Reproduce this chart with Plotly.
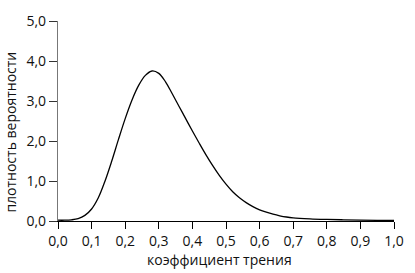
import plotly.graph_objects as go

x_vals = [0.00, 0.02, 0.04, 0.06, 0.08, 0.10, 0.12, 0.14, 0.16, 0.18, 0.20,
          0.22, 0.24, 0.26, 0.28, 0.30, 0.32, 0.34, 0.36, 0.38, 0.40,
          0.42, 0.44, 0.46, 0.48, 0.50, 0.52, 0.54, 0.56, 0.58, 0.60,
          0.62, 0.64, 0.66, 0.68, 0.70, 0.75, 0.80, 0.85, 0.90, 0.95, 1.00]
density = [0.02, 0.02, 0.03, 0.06, 0.14, 0.30, 0.58, 1.00, 1.50, 2.04, 2.56,
           3.02, 3.39, 3.64, 3.75, 3.69, 3.48, 3.18, 2.87, 2.56, 2.25,
           1.95, 1.66, 1.39, 1.14, 0.92, 0.73, 0.58, 0.46, 0.36, 0.28,
           0.22, 0.17, 0.13, 0.10, 0.08, 0.055, 0.04, 0.03, 0.022, 0.016, 0.012]

x_ticks = [0.0, 0.1, 0.2, 0.3, 0.4, 0.5, 0.6, 0.7, 0.8, 0.9, 1.0]
y_ticks = [0.0, 1.0, 2.0, 3.0, 4.0, 5.0]
x_title = "коэффициент трения"
y_title = "плотность вероятности"

fig = go.Figure(go.Scatter(x=x_vals, y=density, mode="lines",
                           line=dict(color="black", width=1.3, shape="spline", smoothing=1.0),
                           hoverinfo="skip"))

font = dict(family="Open Sans, DejaVu Sans, sans-serif", size=14, color="#111")
fig.update_layout(
    width=415, height=273,
    margin=dict(l=58, r=18, t=11, b=52),
    plot_bgcolor="white", paper_bgcolor="white",
    showlegend=False,
    separators=",.",
    font=font,
    xaxis=dict(range=[0, 1.0], tickvals=x_ticks, tickformat=".1f",
               showgrid=False, zeroline=False, showline=True, linecolor="black", linewidth=1.2,
               ticks="outside", ticklen=7, tickcolor="black", tickwidth=1.2),
    yaxis=dict(range=[0, 5.0], tickvals=y_ticks, tickformat=".1f",
               showgrid=False, zeroline=False, showline=True, linecolor="#777", linewidth=1.2,
               ticks="outside", ticklen=8, tickcolor="#333", tickwidth=1.2),
    annotations=[
        dict(text=x_title, xref="paper", yref="paper", x=0.482, y=-0.19,
             xanchor="center", yanchor="middle", showarrow=False, font=font),
        dict(text=y_title, xref="paper", yref="paper", x=-0.1416, y=0.444,
             xanchor="center", yanchor="middle", showarrow=False, textangle=-90, font=font),
    ],
)

fig.write_html("out.html")
